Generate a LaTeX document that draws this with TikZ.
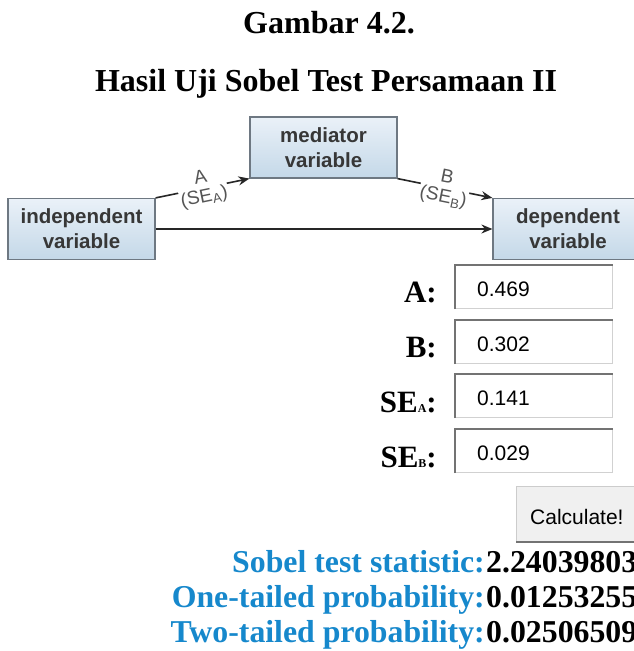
\documentclass[tikz,border=0pt]{standalone}
\usepackage{fontspec}
\setmainfont{Liberation Serif}
\newfontfamily\arialf{Liberation Sans}
\usetikzlibrary{arrows.meta}
\definecolor{sobelblue}{RGB}{22,136,204}
\definecolor{boxtop}{RGB}{234,241,248}
\definecolor{boxbot}{RGB}{196,216,232}
\definecolor{boxedge}{RGB}{110,120,130}
\definecolor{labgray}{RGB}{55,55,55}
\definecolor{edgegray}{RGB}{85,85,85}
\tikzset{
  varbox/.style={draw=boxedge, line width=1.2pt, top color=boxtop, bottom color=boxbot,
    minimum width=147pt, minimum height=61pt, align=center, inner sep=0pt,
    font=\arialf\bfseries\fontsize{20.5}{25}\selectfont, text=labgray},
  conn/.style={draw=black!85, line width=1.6pt, -{Stealth[length=11pt,width=9pt]}},
  edgelab/.style={fill=white, align=center, inner sep=1pt,
    font=\arialf\fontsize{19}{19.5}\selectfont, text=edgegray},
  lab/.style={font=\bfseries\fontsize{31}{31}\selectfont, inner sep=0pt},
  field/.style={draw=black!18, line width=1.2pt, fill=white, minimum width=157pt,
    minimum height=43pt, anchor=north west, inner sep=0pt},
  fieldtext/.style={font=\arialf\fontsize{21}{21}\selectfont, inner sep=0pt, anchor=base west},
  res/.style={font=\bfseries\fontsize{31.8}{31.8}\selectfont, inner sep=0pt},
  ttl/.style={font=\bfseries\fontsize{32}{32}\selectfont, inner sep=0pt, anchor=base}
}
\begin{document}
\begin{tikzpicture}[x=1pt,y=-1pt]
\useasboundingbox (0,0) rectangle (634,651);
\clip (0,0) rectangle (634,651);
\fill[white] (0,0) rectangle (634,651);

% title
\node[ttl] (t1) at (329,33) {Gambar 4.2.};
\node[ttl] (t2) at (326,91) {Hasil Uji Sobel Test Persamaan II};

% mediation diagram
\node[varbox] (indep) at (81.5,229) {independent\\variable};
\node[varbox] (med) at (323.5,147.5) {mediator\\variable};
\node[varbox, minimum width=150pt] (dep) at (568,229) {dependent\\variable};

\draw[conn] (indep.north east) -- node[edgelab, sloped] (la) {A\\(SE\textsubscript{A})} (med.south west);
\draw[conn] (med.south east) -- node[edgelab, sloped] (lb) {B\\(SE\textsubscript{B})} (dep.north west);
\draw[conn] (indep) -- (dep);

% input labels
\node[lab, anchor=base east] (lA) at (437,302) {A:};
\node[lab, anchor=base east] (lB) at (437,357) {B:};
\node[lab, anchor=base east] (lSA) at (437,412) {SE{\fontsize{12}{12}\selectfont A}:};
\node[lab, anchor=base east] (lSB) at (437,467) {SE{\fontsize{12}{12}\selectfont B}:};

% input fields
\foreach \n/\y/\v in {f1/265/0.469, f2/320/0.302, f3/374/0.141, f4/429/0.029}{
  \node[field] (\n) at (455,\y) {};
  \draw[black!55, line width=1.6pt] (\n.south west) -- (\n.north west) -- (\n.north east);
  \node[fieldtext] (\n v) at (477,\y+31) {\v};
}

% button
\node[draw=black!20, fill=black!6, line width=1pt, minimum width=124pt, minimum height=55pt,
      anchor=north west, inner sep=0pt] (calc) at (516,486) {};
\draw[black!55, line width=2pt] (calc.south west) -- (calc.south east);
\node[fieldtext] (calct) at (530,524) {Calculate!};

% results
\node[res, text=sobelblue, anchor=base east] (r1l) at (485,572) {Sobel test statistic:};
\node[res, anchor=base west] (r1v) at (486,572) {2.24039803};
\node[res, text=sobelblue, anchor=base east] (r2l) at (485,607) {One-tailed probability:};
\node[res, anchor=base west] (r2v) at (486,607) {0.01253255};
\node[res, text=sobelblue, anchor=base east] (r3l) at (485,642) {Two-tailed probability:};
\node[res, anchor=base west] (r3v) at (486,642) {0.02506509};
\end{tikzpicture}
\end{document}
